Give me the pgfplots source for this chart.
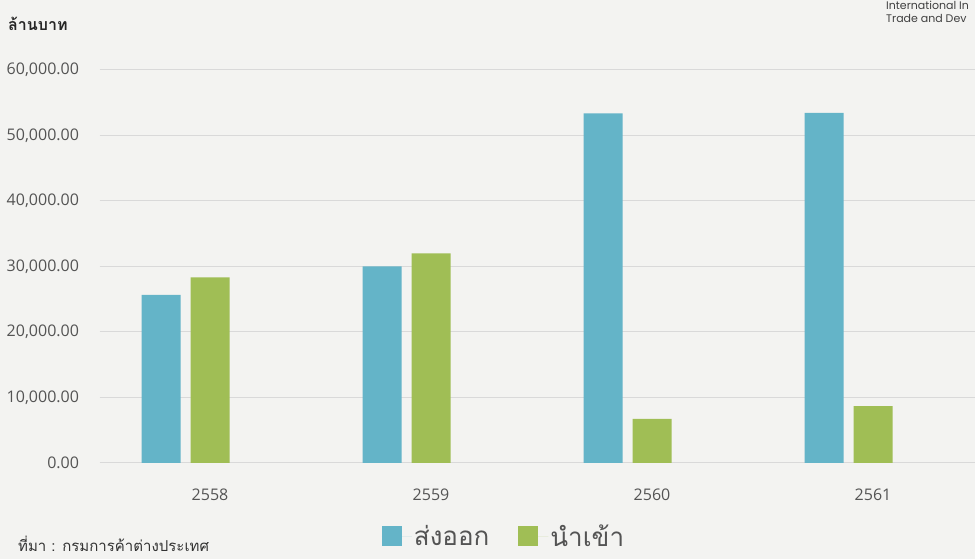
\documentclass[border=0pt]{standalone}
\usepackage{fontspec}
\usepackage{pgfplots}
\pgfplotsset{compat=1.18}
\setmainfont{Open Sans}
\newfontfamily\thaifont[Script=Thai]{Loma}
\newfontfamily\logofont{Poppins}
\definecolor{bg}{RGB}{243,243,241}
\definecolor{expc}{RGB}{100,180,200}
\definecolor{impc}{RGB}{160,190,85}
\definecolor{txt}{RGB}{84,84,84}
\definecolor{gridc}{RGB}{217,217,217}
\begin{document}
\begin{tikzpicture}[x=1pt,y=1pt]
\fill[bg] (0,0) rectangle (975,559);
\useasboundingbox (0,0) rectangle (975,559);
\begin{axis}[
  at={(99.5pt,96pt)}, anchor=south west,
  scale only axis, width=875.5pt, height=393pt,
  xmin=-0.5, xmax=3.4615, ymin=0, ymax=60000,
  axis line style={draw=none},
  major tick length=0pt,
  ymajorgrids, grid style={gridc, line width=1pt},
  ytick={0,10000,20000,30000,40000,50000,60000},
  scaled y ticks=false,
  yticklabel style={/pgf/number format/fixed, /pgf/number format/fixed zerofill, /pgf/number format/precision=2, /pgf/number format/1000 sep={,}, /pgf/number format/assume math mode=true, font=\fontsize{16}{18}\selectfont, text=txt, xshift=-17pt},
  xtick={0,1,2,3}, xticklabels={2558,2559,2560,2561},
  xticklabel style={font=\fontsize{16}{18}\selectfont, text=txt, yshift=-22pt},
  clip=false,
  legend style={at={(0.462,-0.187)}, anchor=center, draw=none, fill=none, legend columns=2,
    font=\thaifont\fontsize{26}{30}\selectfont, text=txt,
    /tikz/every even column/.append style={column sep=27pt}},
  legend image code/.code={\path (0pt,0pt) -- (30pt,0pt);\fill[#1] (0pt,-10pt) rectangle (20pt,10pt);},
]
\addplot[ybar, bar width=39pt, bar shift=0pt, fill=expc, draw=none]
  coordinates {(-0.2217,25650) (0.7783,30000) (1.7783,53390) (2.7783,53440)};
\addplot[ybar, bar width=39pt, bar shift=0pt, fill=impc, draw=none]
  coordinates {(0,28320) (1,32010) (2,6720) (3,8700)};
\legend{ส่งออก,นำเข้า}
\end{axis}
\node[anchor=base west, font=\thaifont\bfseries\fontsize{16}{18}\selectfont, text=black!85, inner sep=0pt] at (8,528) {ล้านบาท};
\node[anchor=base west, font=\thaifont\fontsize{15}{18}\selectfont, text=black!80, inner sep=0pt] at (18,7) {ที่มา : กรมการค้าต่างประเทศ};
\node[anchor=base west, font=\logofont\fontsize{11}{13}\selectfont, text=black!75, inner sep=0pt] at (886,549) {International In};
\node[anchor=base west, font=\logofont\fontsize{11}{13}\selectfont, text=black!75, inner sep=0pt] at (886,536) {Trade and Dev};
\end{tikzpicture}
\end{document}
